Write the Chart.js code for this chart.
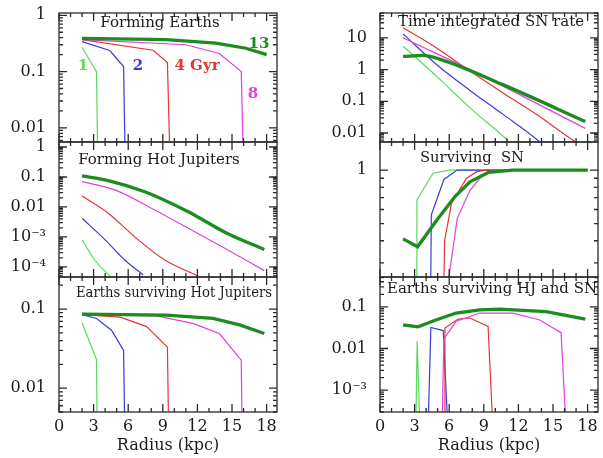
<!DOCTYPE html>
<html lang="en">
<head>
<meta charset="UTF-8">
<title>Earths, Hot Jupiters and SN vs radius</title>
<script src="https://cdn.jsdelivr.net/npm/chart.js"></script>
<style>
  body { margin: 0; background: #fff; width: 603px; height: 458px; position: relative; overflow: hidden; }
  canvas { position: absolute; }
</style>
</head>
<body>
<canvas id="c0"></canvas><canvas id="c1"></canvas>
<canvas id="c2"></canvas><canvas id="c3"></canvas>
<canvas id="c4"></canvas><canvas id="c5"></canvas>
<script>
// ---- data: [radius kpc, value] per age (1, 2, 4, 8, 13 Gyr) ----
const radiusTicks = [0, 3, 6, 9, 12, 15, 18];
const ages = ['1', '2', '4', '8', '13'];

// Forming Earths
const formE1  = [[2, 0.27], [3.25, 0.1], [3.45, 1e-4]];
const formE2  = [[2, 0.34], [4.4, 0.237], [5.6, 0.123], [5.85, 1e-4]];
const formE4  = [[2, 0.37], [8.15, 0.24], [9.4, 0.145], [9.8, 1e-4]];
const formE8  = [[2, 0.37], [11, 0.30], [13.9, 0.21], [15.8, 0.1], [16.15, 1e-4]];
const formE13 = [[2, 0.39], [9.3, 0.37], [13.6, 0.32], [16.2, 0.26], [18, 0.2]];

// Time integrated SN rate
const snRate1  = [[2, 5.5], [3.5, 1.8], [4.9, 0.62], [7.8, 0.062], [11, 0.0062], [11.5, 0.004]];
const snRate2  = [[2, 13.4], [4.9, 1.45], [7.8, 0.22], [10.7, 0.038], [13.7, 0.0058], [14.5, 0.003]];
const snRate4  = [[2, 21], [4.9, 4.8], [7.8, 0.9], [10.7, 0.18], [13.6, 0.038], [16.7, 0.006], [17.5, 0.004]];
const snRate8  = [[2, 10], [2.9, 7], [7.8, 1], [17.8, 0.014]];
const snRate13 = [[2, 2.6], [3.7, 2.8], [4.9, 2.3], [10.7, 0.33], [17.8, 0.023]];

// Forming Hot Jupiters
const formHJ1  = [[2, 8e-4], [3.1, 1.7e-4], [4.4, 5e-5]];
const formHJ2  = [[2, 4.2e-3], [4, 8e-4], [5.7, 1.7e-4], [7.3, 5.4e-5]];
const formHJ4  = [[2, 0.023], [4.27, 6.2e-3], [6.86, 8e-4], [9.17, 1.7e-4], [12.05, 5e-5]];
const formHJ8  = [[2, 0.07], [4.84, 0.037], [8.3, 7.9e-3], [11.2, 1.95e-3], [14.1, 4.8e-4], [17.8, 7.5e-5]];
const formHJ13 = [[2, 0.108], [4.27, 0.076], [7.44, 0.032], [11.2, 6.9e-3], [14.6, 1.3e-3], [17.8, 3.8e-4]];

// Surviving SN
const survSN1  = [[3.17, 0.1], [3.2, 0.68], [4.6, 0.96], [6, 1], [18, 1]];
const survSN2  = [[4.35, 0.1], [4.45, 0.56], [5.54, 0.886], [6.69, 1], [18, 1]];
const survSN4  = [[5.45, 0.1], [5.6, 0.40], [6.2, 0.65], [7.5, 0.9], [8.4, 0.98], [9.2, 1], [18, 1]];
const survSN8  = [[5.1, 0.1], [6.7, 0.535], [7.8, 0.77], [8.9, 0.94], [9.8, 0.99], [11, 1], [18, 1]];
const survSN13 = [[2, 0.41], [3.26, 0.37], [4.9, 0.52], [6.5, 0.71], [7.8, 0.86], [9.4, 0.97], [11.5, 1], [18, 1]];

// Earths surviving Hot Jupiters
const survHJ1  = [[2, 0.067], [3.25, 0.023], [3.4, 1e-4]];
const survHJ2  = [[2, 0.085], [3.25, 0.076], [4.55, 0.054], [5.6, 0.030], [5.85, 1e-4]];
const survHJ4  = [[2, 0.085], [5.3, 0.079], [7.6, 0.06], [9.4, 0.033], [9.65, 1e-4]];
const survHJ8  = [[2, 0.085], [8.45, 0.082], [11.6, 0.066], [13.9, 0.049], [15.8, 0.0226], [16.0, 1e-4]];
const survHJ13 = [[2, 0.086], [9.3, 0.084], [13.35, 0.076], [15.66, 0.063], [17.8, 0.049]];

// Earths surviving HJ and SN
const survAll1  = [[3.1, 1e-4], [3.22, 0.015], [3.47, 1e-4]];
const survAll2  = [[4.16, 1e-4], [4.41, 0.032], [5.48, 0.027], [5.9, 1e-4]];
const survAll4  = [[5.58, 1e-4], [5.63, 0.031], [6.77, 0.051], [7.8, 0.054], [9.37, 0.034], [9.8, 1e-4]];
const survAll8  = [[5.37, 1e-4], [5.54, 0.017], [6.6, 0.045], [8.65, 0.071], [11.5, 0.071], [13.8, 0.049], [15.7, 0.024], [16.15, 1e-4]];
const survAll13 = [[2, 0.037], [3.3, 0.033], [4.9, 0.049], [6.6, 0.071], [8.65, 0.085], [10.4, 0.088], [14.4, 0.077], [17.8, 0.051]];

// y axes: range, tick values, tick labels
const yRanges = [[0.0056, 1.1], [0.0052, 61], [4.6e-5, 1.47], [0.25, 1.44], [0.005, 0.254], [3.2e-4, 0.52]];
const yTickVals = [[1, 0.1, 0.01], [10, 1, 0.1, 0.01], [1, 0.1, 0.01, 1e-3, 1e-4], [1], [0.1, 0.01], [0.1, 0.01, 1e-3]];
const yTickText = [['1', '0.1', '0.01'], ['10', '1', '0.1', '0.01'], ['1', '0.1', '0.01', '10⁻³', '10⁻⁴'], ['1'], ['0.1', '0.01'], ['0.1', '0.01', '10⁻³']];
const titles = ['Forming Earths', 'Time integrated SN rate', 'Forming Hot Jupiters', 'Surviving  SN',
                'Earths surviving Hot Jupiters', 'Earths surviving HJ and SN'];
const panelSeries = [
  [formE1, formE2, formE4, formE8, formE13],
  [snRate1, snRate2, snRate4, snRate8, snRate13],
  [formHJ1, formHJ2, formHJ4, formHJ8, formHJ13],
  [survSN1, survSN2, survSN4, survSN8, survSN13],
  [survHJ1, survHJ2, survHJ4, survHJ8, survHJ13],
  [survAll1, survAll2, survAll4, survAll8, survAll13]
];

// ---- styles / layout ----
const colors = ['#5cd85c', '#3b3bdc', '#e83434', '#e040e0', '#1c8c1c'];
const widths = [1.2, 1.2, 1.2, 1.2, 3.3];
const smooth = [false, true, true, false, false, false];
const FONT = '"DejaVu Serif", serif';
const COLS = [{left: 0, width: 290, axis: 59, padR: 13}, {left: 300, width: 303, axis: 80, padR: 5}];
const ROWS = [{top: 13, bottom: 142}, {top: 142, bottom: 277}, {top: 277, bottom: 412}];
const PAD = 12, XAXIS_H = 46;
// title centre relative to chart area
const titlePos = [[101, 10], [111, 9], [100, 18], [92, 16], [115, 16], [112, 12]];
const titleMax = [122, 188, 166, 104, 196, 210];
// age labels in the first panel: [text, colour index, dx, dy]
const ageLabels = [['1', 0, 24, 53], ['2', 1, 79, 53], ['4 Gyr', 2, 138, 53], ['8', 3, 194, 81], ['13', 4, 200, 31]];

function noPad(sc) { sc.paddingTop = 0; sc.paddingBottom = 0; sc.paddingLeft = 0; sc.paddingRight = 0; }

const frameTicks = {
  id: 'frameTicks',
  afterDatasetsDraw(chart, args, opts) {
    const {ctx, chartArea: a, scales: {x, y}} = chart;
    ctx.save();
    ctx.strokeStyle = '#2a2a2a';
    ctx.lineWidth = 1.3;
    ctx.strokeRect(a.left, a.top, a.right - a.left, a.bottom - a.top);
    ctx.beginPath();
    for (let v = 0; v <= 18; v++) {
      const px = x.getPixelForValue(v), len = v % 3 === 0 ? 8 : 4;
      ctx.moveTo(px, a.bottom); ctx.lineTo(px, a.bottom - len);
      ctx.moveTo(px, a.top); ctx.lineTo(px, a.top + len);
    }
    const e0 = Math.floor(Math.log10(y.min)), e1 = Math.ceil(Math.log10(y.max));
    for (let e = e0; e <= e1; e++) {
      for (let m = 1; m <= 9; m++) {
        const v = m * Math.pow(10, e);
        if (v < y.min || v > y.max) continue;
        const py = y.getPixelForValue(v), len = m === 1 ? 8 : 4;
        ctx.moveTo(a.left, py); ctx.lineTo(a.left + len, py);
        ctx.moveTo(a.right, py); ctx.lineTo(a.right - len, py);
      }
    }
    ctx.stroke();
    // panel title
    ctx.fillStyle = '#1a1a1a';
    ctx.font = '15px ' + FONT;
    ctx.textAlign = 'center';
    ctx.textBaseline = 'middle';
    ctx.fillText(opts.title, a.left + opts.tx, a.top + opts.ty, opts.tmax);
    ctx.font = 'bold 15px ' + FONT;
    (opts.labels || []).forEach(([t, ci, dx, dy]) => {
      ctx.fillStyle = colors[ci];
      ctx.fillText(t, a.left + dx, a.top + dy);
    });
    ctx.restore();
  }
};

function makePanel(i) {
  const col = COLS[i % 2], rowIdx = Math.floor(i / 2), row = ROWS[rowIdx];
  const bottomRow = rowIdx === 2;
  const cv = document.getElementById('c' + i);
  const top = row.top - PAD;
  const h = row.bottom - row.top + PAD + (bottomRow ? XAXIS_H : PAD);
  cv.width = col.width; cv.height = h;
  cv.style.left = col.left + 'px'; cv.style.top = top + 'px';

  const datasets = panelSeries[i].map((s, k) => ({
    label: ages[k] + ' Gyr',
    data: s.map(p => ({x: p[0], y: p[1]})),
    borderColor: colors[k],
    borderWidth: widths[k],
    pointRadius: 0,
    cubicInterpolationMode: smooth[i] ? 'monotone' : 'default',
    tension: 0
  })).reverse();

  new Chart(cv, {
    type: 'line',
    data: {datasets},
    plugins: [frameTicks],
    options: {
      responsive: false,
      animation: false,
      layout: {padding: {top: PAD, bottom: bottomRow ? 0 : PAD, left: 0, right: col.padR}},
      plugins: {
        legend: {display: false},
        tooltip: {enabled: false},
        frameTicks: {title: titles[i], tx: titlePos[i][0], ty: titlePos[i][1], tmax: titleMax[i],
                     labels: i === 0 ? ageLabels : []}
      },
      scales: {
        x: {
          type: 'linear', min: 0, max: 18.9,
          display: bottomRow,
          grid: {display: false, drawTicks: false},
          border: {display: false},
          afterBuildTicks: sc => { sc.ticks = radiusTicks.map(v => ({value: v})); },
          afterFit: sc => { if (bottomRow) sc.height = XAXIS_H; noPad(sc); },
          ticks: {font: {family: FONT, size: 16}, color: '#1a1a1a', padding: 5, maxRotation: 0, autoSkip: false},
          title: {display: true, text: 'Radius (kpc)', font: {family: FONT, size: 16}, color: '#1a1a1a', padding: {top: 0, bottom: 3}}
        },
        y: {
          type: 'logarithmic', min: yRanges[i][0], max: yRanges[i][1],
          grid: {display: false, drawTicks: false},
          border: {display: false},
          afterBuildTicks: sc => { sc.ticks = yTickVals[i].map(v => ({value: v})); },
          afterFit: sc => { sc.width = col.axis; noPad(sc); },
          ticks: {
            font: {family: FONT, size: 16}, color: '#1a1a1a', padding: 13, autoSkip: false,
            callback: (v, idx) => yTickText[i][idx]
          }
        }
      }
    }
  });
}

for (let i = 0; i < 6; i++) makePanel(i);
</script>
</body>
</html>
